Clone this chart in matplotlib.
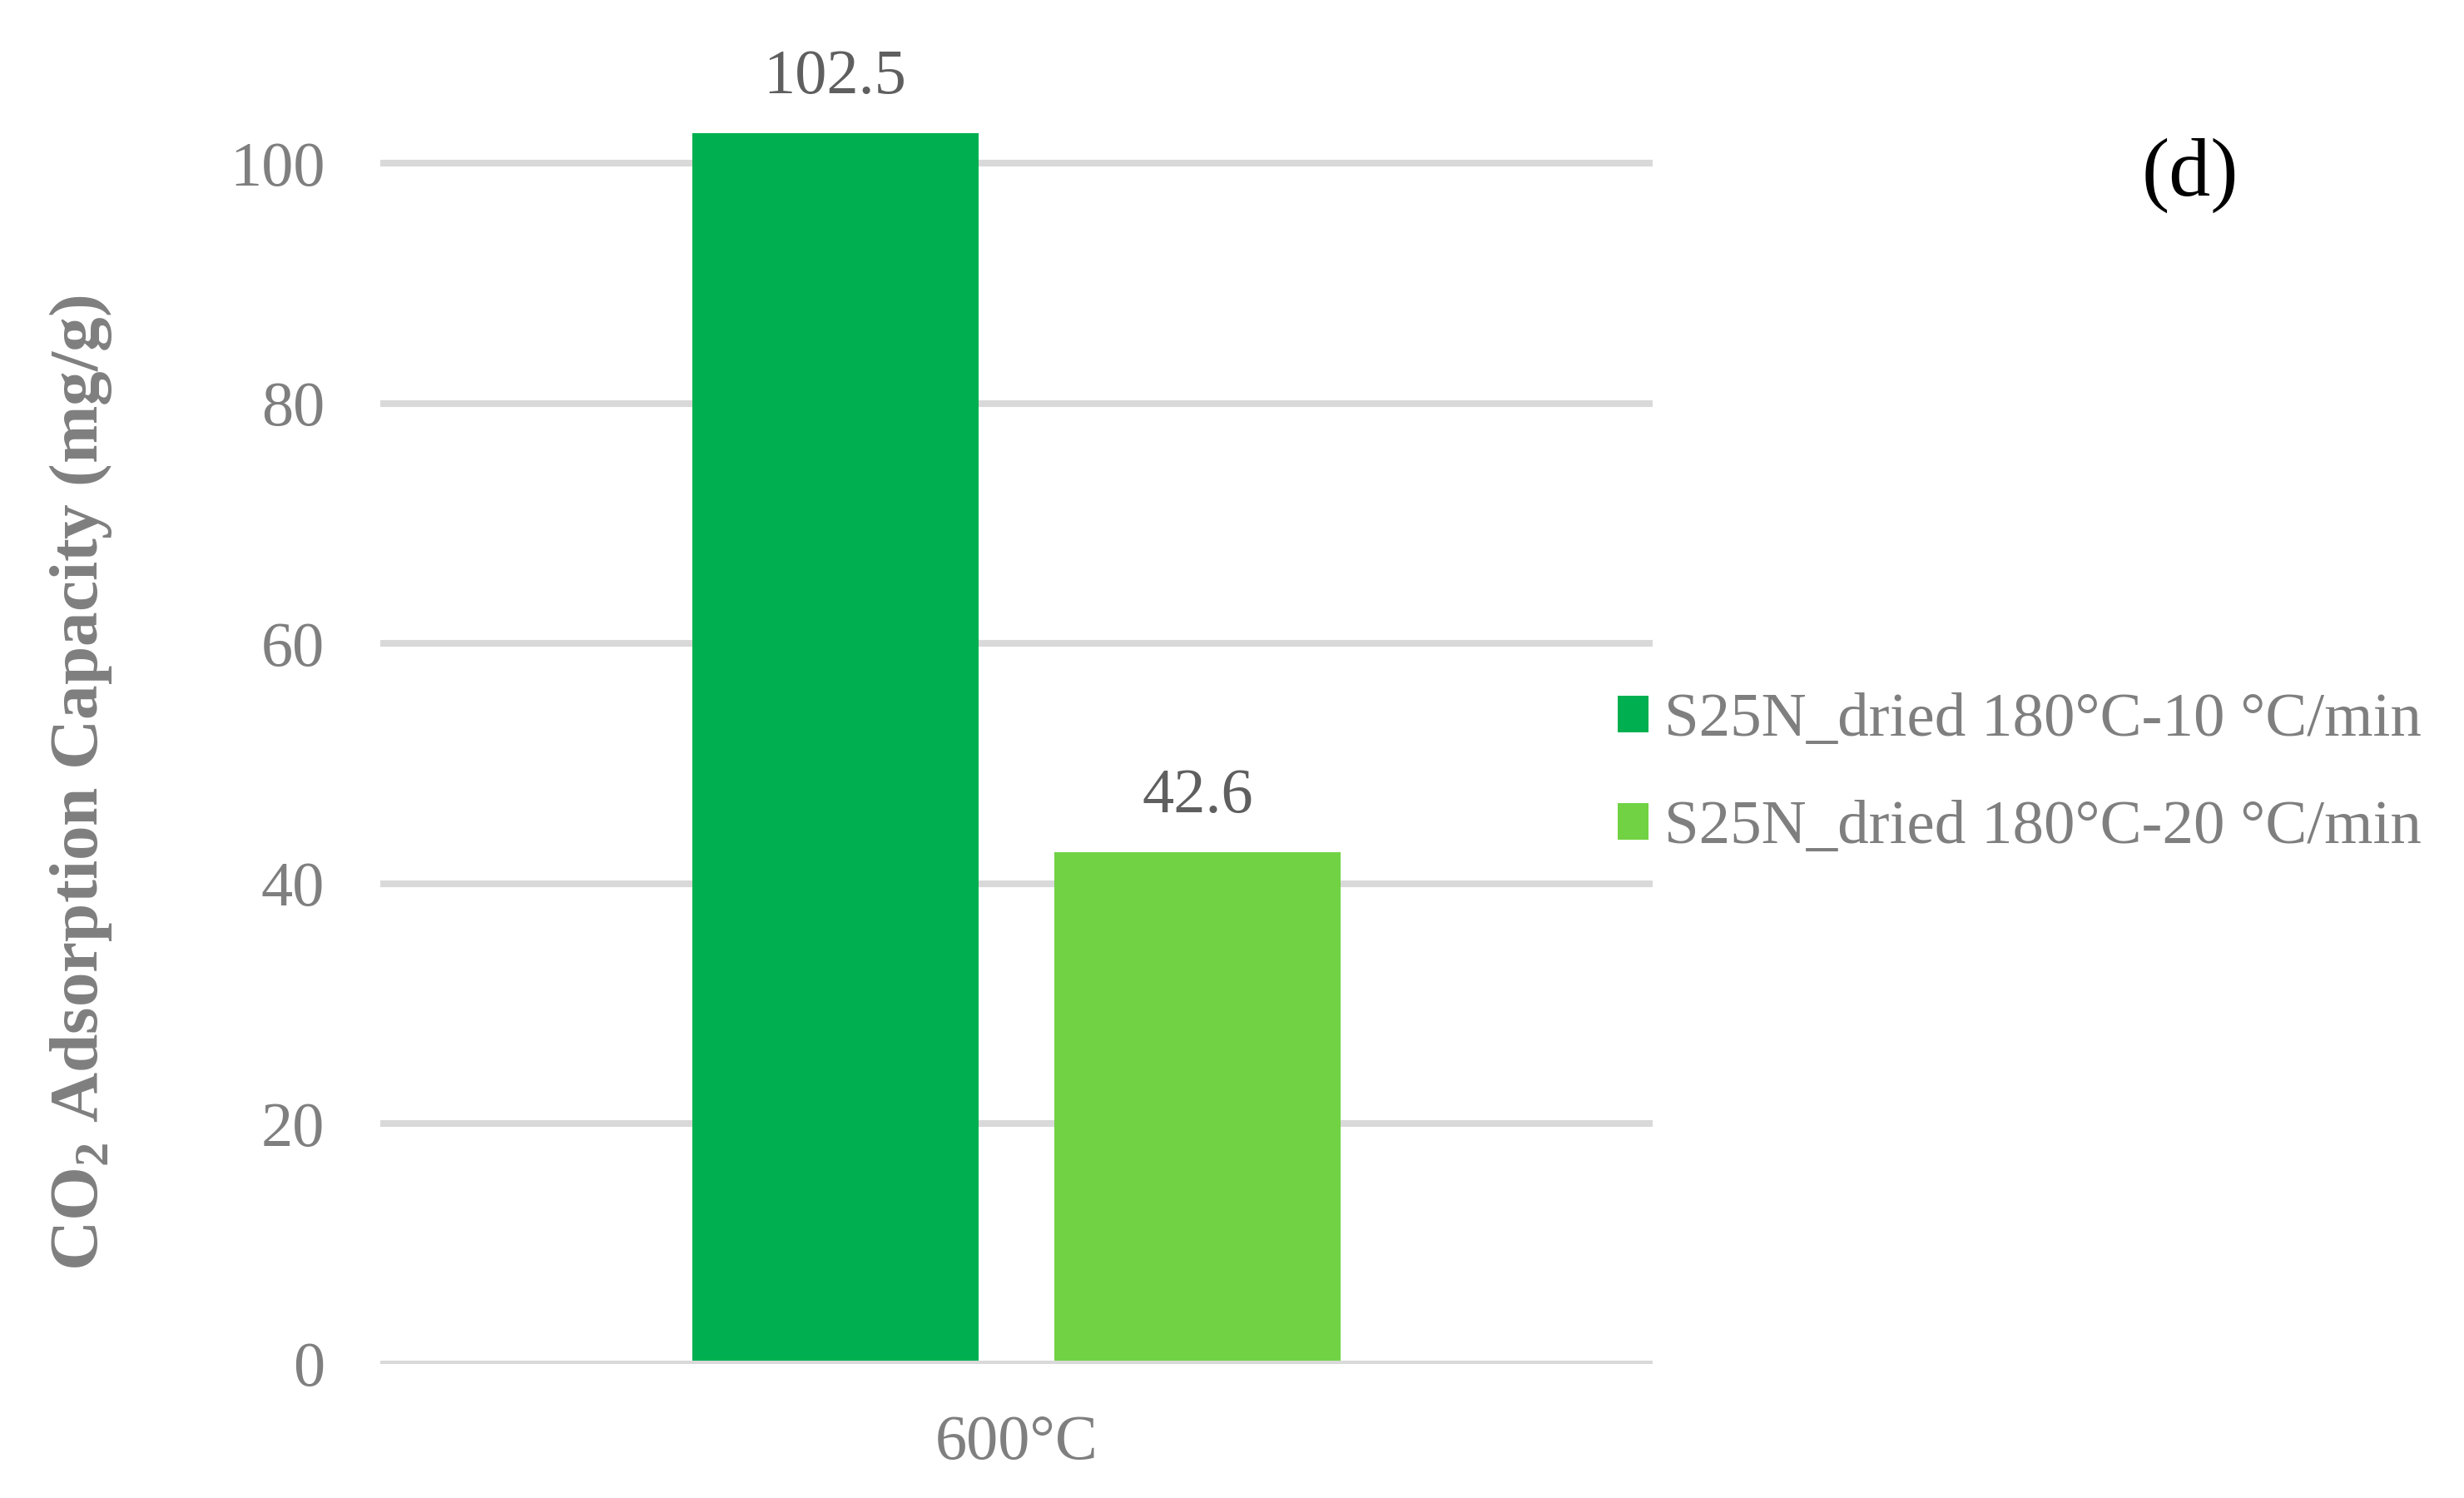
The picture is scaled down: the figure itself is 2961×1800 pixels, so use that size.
import matplotlib
matplotlib.use("Agg")
import matplotlib.pyplot as plt
from matplotlib.patches import Patch

# data
categories = ["600°C"]
series_names = ["S25N_dried 180°C-10 °C/min", "S25N_dried 180°C-20 °C/min"]
series_values = [[102.5], [42.6]]
series_colors = ["#00B050", "#71D244"]
y_ticks = [0, 20, 40, 60, 80, 100]

plt.rcParams["font.family"] = ["Liberation Serif", "DejaVu Serif"]
plt.rcParams["mathtext.fontset"] = "custom"
plt.rcParams["mathtext.rm"] = "Liberation Serif"
plt.rcParams["mathtext.bf"] = "Liberation Serif:bold"

fig = plt.figure(figsize=(29.61, 18), dpi=100)
ax = fig.add_axes([457 / 2961, 161 / 1800, 1529 / 2961, 1587 / 1800])

bar_width = 0.225
offsets = [-0.1425, 0.1425]
x = list(range(len(categories)))

for name, vals, color, off in zip(series_names, series_values, series_colors, offsets):
    xs = [xi + off for xi in x]
    ax.bar(xs, vals, width=bar_width, color=color, zorder=2, label=name)
    for xv, v in zip(xs, vals):
        ax.annotate(f"{v:.1f}", xy=(xv, v), xytext=(0, 35), textcoords="offset points",
                    ha="center", va="baseline", fontsize=55, color="#5F5F5F")

ax.set_xlim(-0.5, 0.5)
ax.set_ylim(0, 110)
ax.set_yticks(y_ticks)
ax.set_xticks(x)
ax.set_xticklabels(categories)
ax.tick_params(axis="y", length=0, pad=48, labelsize=55, labelcolor="#7F7F7F")
ax.tick_params(axis="x", length=0, pad=44, labelsize=55, labelcolor="#7F7F7F")
ax.yaxis.grid(True, color="#D9D9D9", linewidth=5.8, zorder=0)
ax.set_axisbelow(True)
ax.axhline(0, color="#D9D9D9", linewidth=5.8, zorder=3)
for s in ax.spines.values():
    s.set_visible(False)

fig.text(97 / 2961, 1 - 941 / 1800, r"CO$_\mathbf{2}$ Adsorption Capacity (mg/g)",
         rotation=90, ha="center", va="center", fontsize=60, fontweight="bold",
         color="#7F7F7F")

fig.text(2632 / 2961, 1 - 235 / 1800, "(d)", ha="center", va="baseline",
         fontsize=72, color="black")

handles = [Patch(facecolor=c, edgecolor="none") for c in series_colors]
leg = fig.legend(handles, series_names, loc="center left",
                 bbox_to_anchor=(1944 / 2961, 1 - 931 / 1800),
                 frameon=False, fontsize=54, borderpad=0, borderaxespad=0,
                 handlelength=0.49, handleheight=0.52, handletextpad=0.26,
                 labelspacing=0.82)
for t in leg.get_texts():
    t.set_color("#7F7F7F")

fig.savefig("out.png", dpi=100)
